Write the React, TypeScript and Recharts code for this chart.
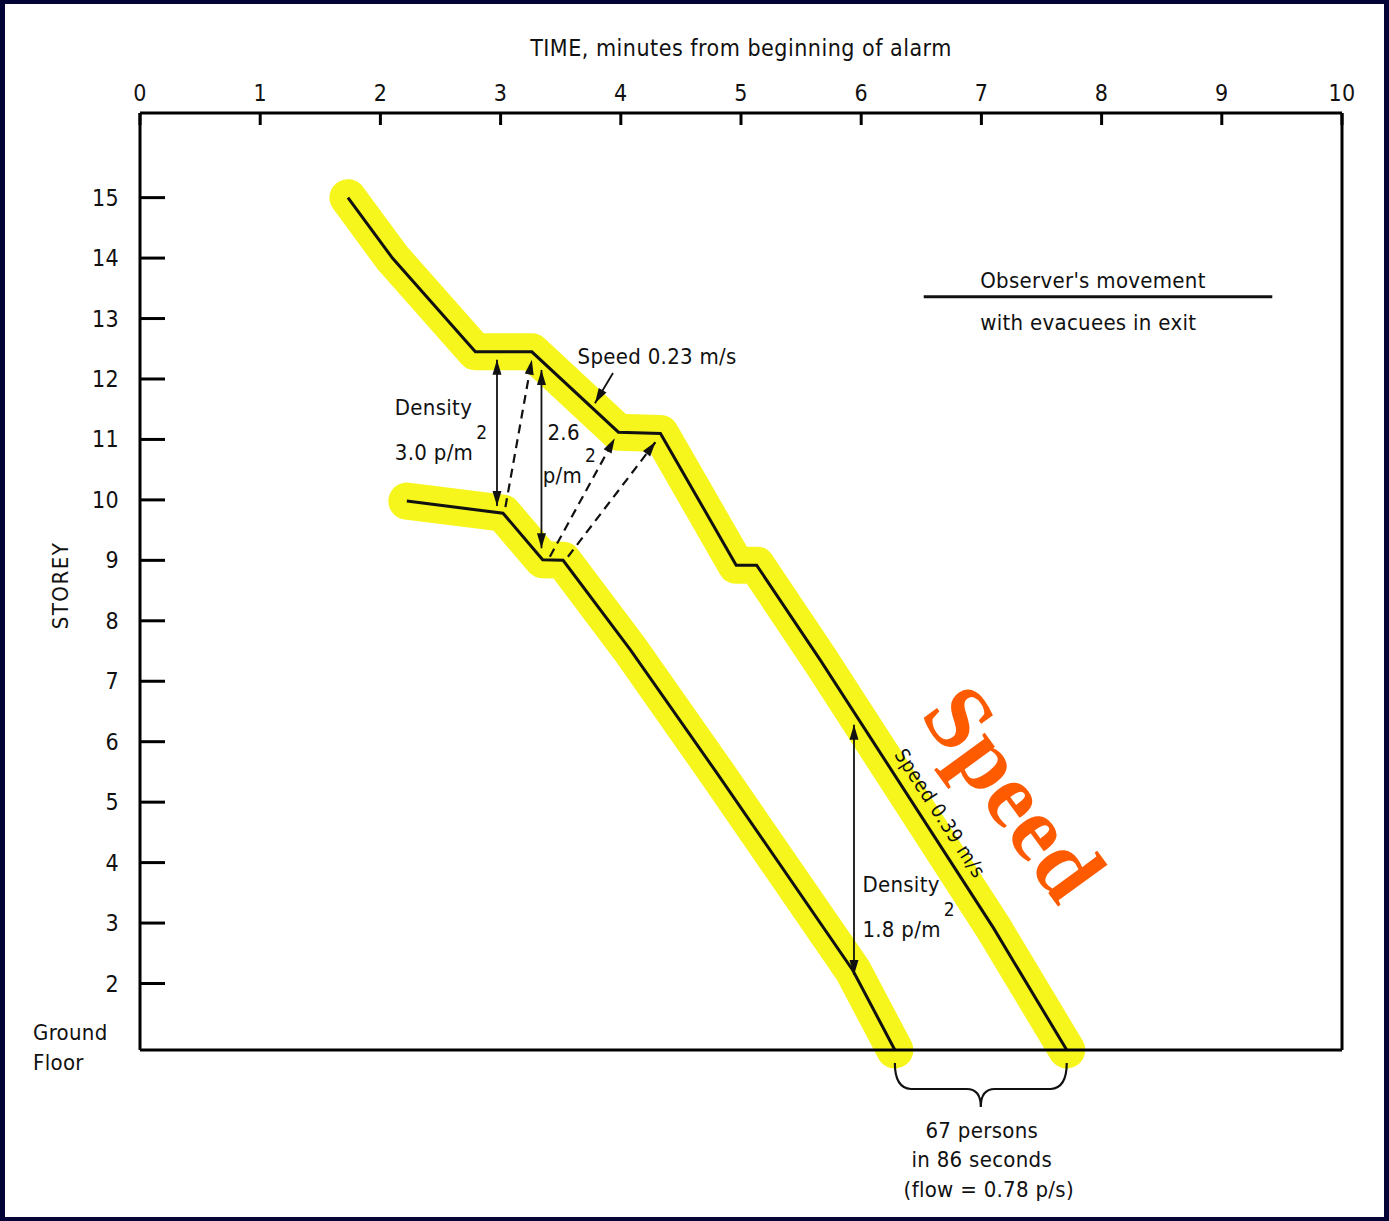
import React from 'react';
import { LineChart, Line, XAxis, YAxis, ReferenceLine, ReferenceDot } from 'recharts';

// axis ticks
const timeTicks = [0, 1, 2, 3, 4, 5, 6, 7, 8, 9, 10];
const innerTimeTicks = [1, 2, 3, 4, 5, 6, 7, 8, 9];
const storeyTicks = [1, 2, 3, 4, 5, 6, 7, 8, 9, 10, 11, 12, 13, 14, 15];
const groundLevel = 0.9;

// observer's movement (minutes, storey)
const observerTime = [1.73, 2.1, 2.79, 3.26, 3.98, 4.33, 4.96, 5.13, 5.66, 7.1, 7.71];
const observerStorey = [15.0, 14.0, 12.45, 12.45, 11.12, 11.1, 8.92, 8.92, 7.35, 2.92, 0.9];

// front of the evacuee stream
const frontTime = [2.22, 3.02, 3.35, 3.52, 4.08, 4.8, 5.93, 6.28];
const frontStorey = [9.98, 9.78, 9.01, 9.0, 7.52, 5.48, 2.22, 0.9];

// density spans (solid double arrows)
const gapTime = [2.97, 3.34, 5.94];
const gapTop = [12.32, 12.15, 6.28];
const gapBottom = [9.9, 9.2, 2.14];

// dashed links between the two lines
const linkFromTime = [3.04, 3.41, 3.56];
const linkFromStorey = [9.88, 9.06, 9.06];
const linkToTime = [3.26, 3.95, 4.29];
const linkToStorey = [12.32, 11.02, 10.96];

const observer = observerTime.map((t, i) => ({ t, s: observerStorey[i] }));
const front = frontTime.map((t, i) => ({ t, s: frontStorey[i] }));

const FONT = "'DejaVu Sans Condensed', 'Liberation Sans Narrow', sans-serif";
const txt: React.CSSProperties = { fontFamily: FONT, fontSize: 22, letterSpacing: 0.3, fill: '#111' };
const HIGHLIGHT = '#f6f61c';

function head(tx: number, ty: number, fx: number, fy: number) {
  const a = Math.atan2(ty - fy, tx - fx);
  const len = 15;
  const w = 4.5;
  const bx = tx - len * Math.cos(a);
  const by = ty - len * Math.sin(a);
  const px = -Math.sin(a) * w;
  const py = Math.cos(a) * w;
  return `${tx},${ty} ${bx + px},${by + py} ${bx - px},${by - py}`;
}

const arrow = (both: boolean, dashed: boolean) => (p: any) => {
  const { x1, y1, x2, y2 } = p;
  return (
    <g>
      <line x1={x1} y1={y1} x2={x2} y2={y2} stroke="#111" strokeWidth={dashed ? 2.2 : 1.8}
        strokeDasharray={dashed ? '9 6' : undefined} />
      <polygon points={head(x2, y2, x1, y1)} fill="#111" />
      {both && <polygon points={head(x1, y1, x2, y2)} fill="#111" />}
    </g>
  );
};

const brace = (p: any) => {
  const { x1, x2 } = p;
  const y = p.y1 + 13;
  const mid = (x1 + x2) / 2;
  const d = `M${x1},${y} Q${x1},${y + 25} ${x1 + 16},${y + 26} L${mid - 14},${y + 26} ` +
    `Q${mid},${y + 26} ${mid},${y + 44} Q${mid},${y + 26} ${mid + 14},${y + 26} ` +
    `L${x2 - 16},${y + 26} Q${x2},${y + 25} ${x2},${y}`;
  return (
    <g>
      <path d={d} fill="none" stroke="#111" strokeWidth={2.2} />
      <text x={mid + 1} y={p.y1 + 88} textAnchor="middle" style={txt}>67 persons</text>
      <text x={mid + 1} y={p.y1 + 117} textAnchor="middle" style={txt}>in 86 seconds</text>
      <text x={mid + 8} y={p.y1 + 147} textAnchor="middle" style={txt}>(flow = 0.78 p/s)</text>
    </g>
  );
};

const note = (content: React.ReactNode, extra?: React.CSSProperties) => (p: any) => (
  <text x={p.cx} y={p.cy} style={{ ...txt, ...extra }}>{content}</text>
);

const sup = (base: string) => (
  <>
    <tspan>{base}</tspan>
    <tspan dx={3} dy={-21} fontSize={19}>2</tspan>
  </>
);

const TopTick = (p: any) => (
  <g>
    <line x1={p.x} y1={p.y} x2={p.x} y2={p.y + 12} stroke="#000" strokeWidth={3} />
    <text x={p.x} y={p.y - 12} textAnchor="middle" style={{ ...txt, fontSize: 23 }}>{p.payload.value}</text>
  </g>
);

const BottomTick = (p: any) => (
  <line x1={p.x} y1={p.y} x2={p.x} y2={p.y - 15} stroke="#000" strokeWidth={3} />
);

const LeftTick = (p: any) => {
  if (p.payload.value === 1) {
    return (
      <g>
        <text x={p.x - 107} y={p.y - 4} style={txt}>Ground</text>
        <text x={p.x - 107} y={p.y + 26} style={txt}>Floor</text>
      </g>
    );
  }
  return (
    <g>
      <line x1={p.x} y1={p.y} x2={p.x + 25} y2={p.y} stroke="#000" strokeWidth={3} />
      <text x={p.x - 21} y={p.y + 8} textAnchor="end" style={{ ...txt, fontSize: 23 }}>{p.payload.value}</text>
    </g>
  );
};

const RightTick = (p: any) =>
  p.payload.value === 1 ? <g /> : (
    <line x1={p.x} y1={p.y} x2={p.x - 27} y2={p.y} stroke="#000" strokeWidth={3} />
  );

const TimeTitle = (p: any) => {
  const vb = p.viewBox;
  return (
    <text x={vb.x + vb.width / 2} y={vb.y - 7} textAnchor="middle" style={{ ...txt, fontSize: 23, letterSpacing: 0.5 }}>
      TIME, minutes from beginning of alarm
    </text>
  );
};

const StoreyTitle = (p: any) => {
  const vb = p.viewBox;
  const cx = vb.x - 20;
  const cy = vb.y + vb.height / 2 + 4;
  return (
    <text x={cx} y={cy} dy="0.36em" textAnchor="middle" transform={`rotate(-90, ${cx}, ${cy})`}
      style={{ ...txt, fontSize: 22, letterSpacing: 1.5 }}>
      STOREY
    </text>
  );
};

const axisLine = { stroke: '#000', strokeWidth: 3 };

export default function App() {
  return (
    <div style={{ position: 'absolute', left: 0, top: 0, width: 1389, height: 1221, background: '#030336' }}>
      <div style={{ position: 'absolute', left: 5, top: 4, width: 1379, height: 1213, background: '#fff' }} />
      <div style={{ position: 'absolute', left: 0, top: 0 }}>
        <LineChart width={1389} height={1221} margin={{ top: 63, right: 27, bottom: 151, left: 80 }}>
          <XAxis xAxisId="top" orientation="top" type="number" dataKey="t" domain={[0, 10]} ticks={timeTicks}
            interval={0} height={50} tickSize={0} tickMargin={0} tickLine={false} axisLine={axisLine}
            tick={<TopTick />} label={TimeTitle} />
          <XAxis xAxisId="bottom" orientation="bottom" type="number" dataKey="t" domain={[0, 10]}
            ticks={innerTimeTicks} interval={0} height={20} tickSize={0} tickMargin={0} tickLine={false}
            axisLine={axisLine} tick={<BottomTick />} />
          <YAxis yAxisId="left" orientation="left" type="number" domain={[groundLevel, 16.4]} ticks={storeyTicks}
            interval={0} width={60} tickSize={0} tickMargin={0} tickLine={false} axisLine={axisLine}
            tick={<LeftTick />} label={StoreyTitle} />
          <YAxis yAxisId="right" orientation="right" type="number" domain={[groundLevel, 16.4]} ticks={storeyTicks}
            interval={0} width={20} tickSize={0} tickMargin={0} tickLine={false} axisLine={axisLine}
            tick={<RightTick />} />

          <Line xAxisId="top" yAxisId="left" data={observer} dataKey="s" type="linear" stroke={HIGHLIGHT}
            strokeWidth={37} strokeLinecap="round" strokeLinejoin="round" dot={false} isAnimationActive={false} />
          <Line xAxisId="top" yAxisId="left" data={front} dataKey="s" type="linear" stroke={HIGHLIGHT}
            strokeWidth={37} strokeLinecap="round" strokeLinejoin="round" dot={false} isAnimationActive={false} />
          <Line xAxisId="top" yAxisId="left" data={observer} dataKey="s" type="linear" stroke="#111"
            strokeWidth={3} dot={false} isAnimationActive={false} />
          <Line xAxisId="top" yAxisId="left" data={front} dataKey="s" type="linear" stroke="#111"
            strokeWidth={3} dot={false} isAnimationActive={false} />

          {gapTime.map((t, i) => (
            <ReferenceLine key={`g${i}`} xAxisId="top" yAxisId="left"
              segment={[{ x: t, y: gapTop[i] }, { x: t, y: gapBottom[i] }]} shape={arrow(true, false)} />
          ))}
          {linkFromTime.map((t, i) => (
            <ReferenceLine key={`l${i}`} xAxisId="top" yAxisId="left"
              segment={[{ x: t, y: linkFromStorey[i] }, { x: linkToTime[i], y: linkToStorey[i] }]}
              shape={arrow(false, true)} />
          ))}
          <ReferenceLine xAxisId="top" yAxisId="left" segment={[{ x: 3.935, y: 12.1 }, { x: 3.785, y: 11.6 }]}
            shape={arrow(false, false)} />
          <ReferenceLine xAxisId="top" yAxisId="left" ifOverflow="visible"
            segment={[{ x: frontTime[frontTime.length - 1], y: groundLevel },
              { x: observerTime[observerTime.length - 1], y: groundLevel }]} shape={brace} />

          <ReferenceDot xAxisId="top" yAxisId="left" x={2.12} y={11.4} shape={note('Density')} />
          <ReferenceDot xAxisId="top" yAxisId="left" x={2.12} y={10.66} shape={note(sup('3.0 p/m'))} />
          <ReferenceDot xAxisId="top" yAxisId="left" x={3.39} y={10.99} shape={note('2.6')} />
          <ReferenceDot xAxisId="top" yAxisId="left" x={3.35} y={10.28} shape={note(sup('p/m'))} />
          <ReferenceDot xAxisId="top" yAxisId="left" x={3.64} y={12.25} shape={note('Speed 0.23 m/s')} />
          <ReferenceDot xAxisId="top" yAxisId="left" x={6.99} y={13.51} shape={note("Observer's movement")} />
          <ReferenceDot xAxisId="top" yAxisId="left" x={6.99} y={12.81} shape={note('with evacuees in exit')} />
          <ReferenceLine xAxisId="top" yAxisId="left" segment={[{ x: 6.52, y: 13.36 }, { x: 9.42, y: 13.36 }]}
            stroke="#111" strokeWidth={3} />
          <ReferenceDot xAxisId="top" yAxisId="left" x={6.01} y={3.51} shape={note('Density')} />
          <ReferenceDot xAxisId="top" yAxisId="left" x={6.01} y={2.77} shape={note(sup('1.8 p/m'))} />
          <ReferenceDot xAxisId="top" yAxisId="left" x={6.27} y={5.79}
            shape={(p: any) => (
              <text x={p.cx} y={p.cy} transform={`rotate(57, ${p.cx}, ${p.cy})`}
                style={{ ...txt, fontSize: 20, letterSpacing: 0.6 }}>Speed 0.39 m/s</text>
            )} />
          <ReferenceDot xAxisId="top" yAxisId="left" x={7.25} y={5.12}
            shape={(p: any) => (
              <text x={p.cx} y={p.cy} dy="0.3em" textAnchor="middle" transform={`rotate(54, ${p.cx}, ${p.cy})`}
                style={{ fontFamily: "'Liberation Serif', 'Times New Roman', serif", fontWeight: 700, fontSize: 93, fill: '#fe5b00' }}>
                Speed
              </text>
            )} />
        </LineChart>
      </div>
    </div>
  );
}
